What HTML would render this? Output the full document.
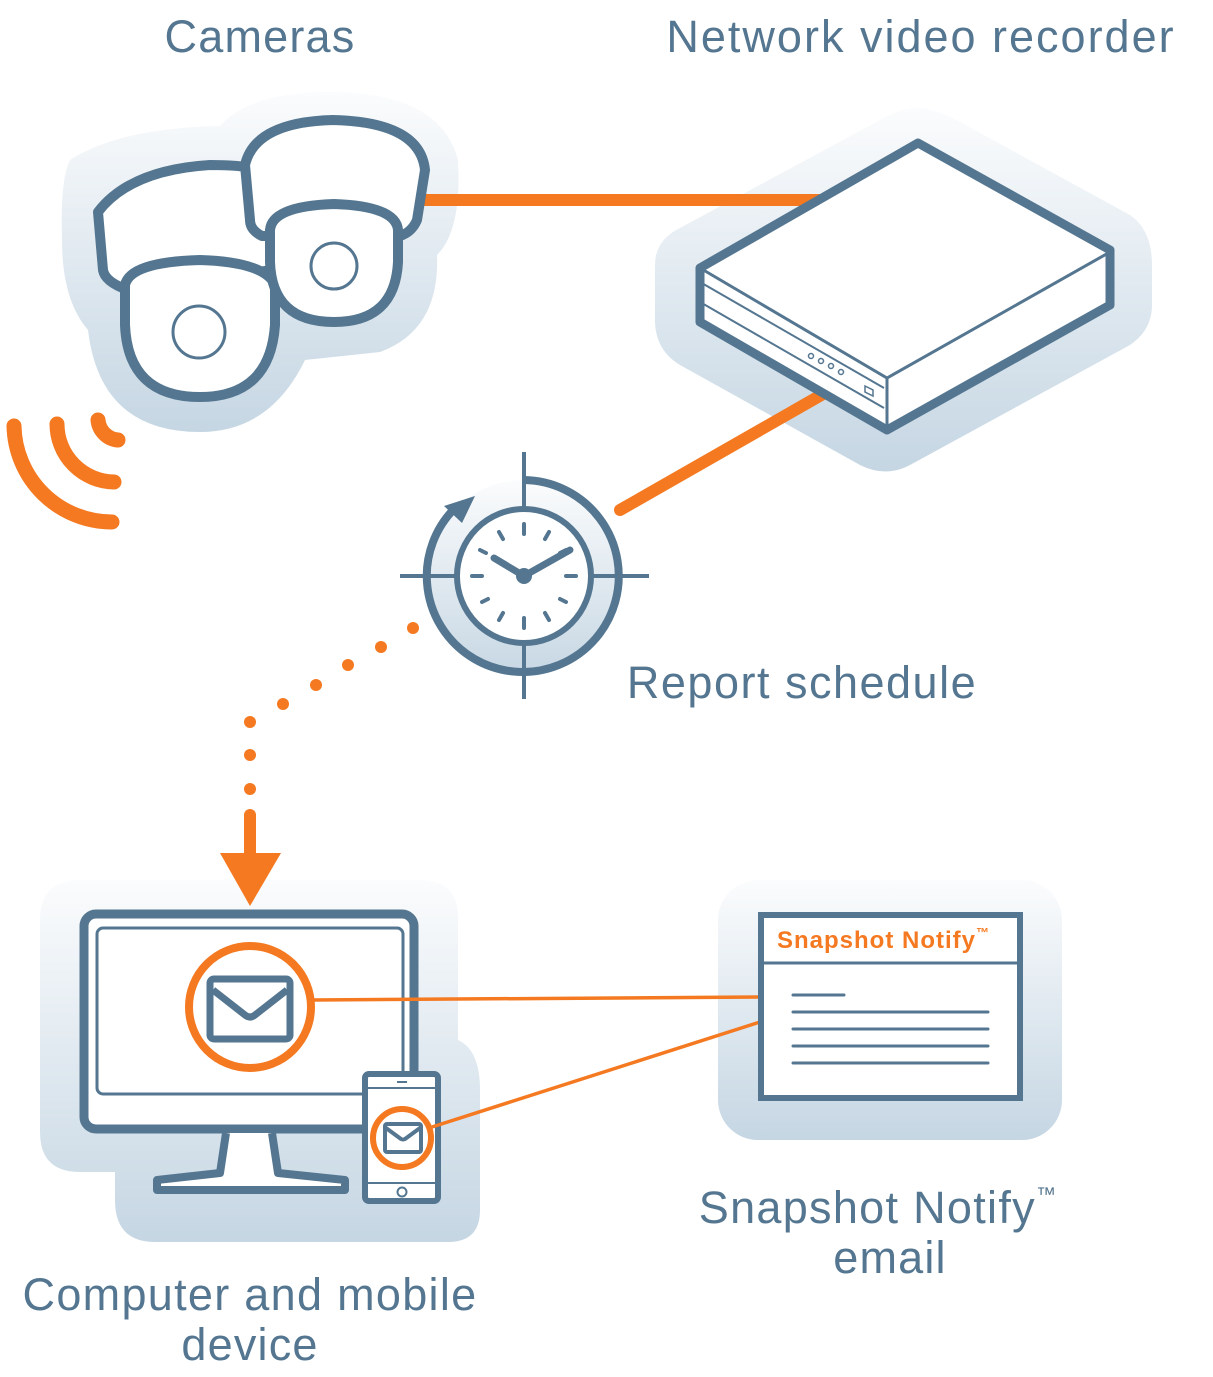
<!DOCTYPE html>
<html><head><meta charset="utf-8"><style>
html,body{margin:0;padding:0;background:#fff;}
svg{display:block;}
text{font-family:"Liberation Sans",sans-serif;fill:#547690;}
</style></head><body>
<svg width="1213" height="1377" viewBox="0 0 1213 1377" xmlns="http://www.w3.org/2000/svg">
<defs>
<linearGradient id="g" x1="0" y1="0" x2="0" y2="1">
<stop offset="0" stop-color="#fbfcfd"/><stop offset="1" stop-color="#c5d6e3"/></linearGradient>
<linearGradient id="g2" x1="0" y1="0" x2="0" y2="1">
<stop offset="0" stop-color="#fbfcfd"/><stop offset="1" stop-color="#c8d8e4"/></linearGradient>
</defs>

<!-- Titles -->
<g font-size="45" letter-spacing="1.2" text-anchor="middle">
<text x="260" y="52">Cameras</text>
<text x="921" y="52" letter-spacing="2">Network video recorder</text>
<text x="802" y="698" letter-spacing="1.5">Report schedule</text>
<text x="250" y="1310" letter-spacing="1.3">Computer and mobile</text>
<text x="250" y="1360">device</text>
<text x="878" y="1223" letter-spacing="1.3">Snapshot Notify<tspan font-size="20" dy="-22">™</tspan></text>
<text x="890" y="1273">email</text>
</g>

<!-- camera background -->
<path d="M70,160 Q120,128 220,126 Q250,92 330,92 Q440,92 458,160 Q462,230 437,255 Q440,330 380,352 L305,360 Q270,432 200,432 Q100,432 88,330 Q62,300 62,240 Q60,180 70,160 Z" fill="url(#g)"/>
<!-- NVR background -->
<path d="M918,108 Q935,108 960,122 L1130,215 Q1152,230 1152,265 L1152,305 Q1152,330 1130,345 L910,465 Q886,478 860,465 L680,365 Q655,350 655,320 L655,265 Q655,240 680,228 L880,120 Q900,108 918,108 Z" fill="url(#g)"/>

<!-- orange connectors -->
<line x1="420" y1="200" x2="830" y2="200" stroke="#f47920" stroke-width="12"/>
<line x1="830" y1="390" x2="620" y2="510" stroke="#f47920" stroke-width="12" stroke-linecap="round"/>

<!-- cameras: left -->
<path d="M98,212 Q130,170 210,165 Q245,165 260,170 L272,238 L272,270 L128,290 Q105,282 103,270 Z" fill="#fff" stroke="#547690" stroke-width="10" stroke-linejoin="round"/>
<path d="M125,292 L125,285 Q130,262 200,260 Q265,262 275,285 L275,325 Q270,397 200,397 Q128,397 125,325 Z" fill="#fff" stroke="#547690" stroke-width="10"/>
<path d="M128,282 Q140,262 200,260 Q262,262 272,280" fill="none" stroke="#547690" stroke-width="3"/>
<circle cx="199" cy="332" r="26" fill="none" stroke="#547690" stroke-width="3"/>
<!-- camera right -->
<path d="M245,165 Q255,122 333,120 Q420,122 425,170 L417,220 Q412,232 400,236 L262,236 Q250,230 250,220 Z" fill="#fff" stroke="#547690" stroke-width="10" stroke-linejoin="round"/>
<path d="M270,230 Q272,206 334,204 Q396,206 398,230 L398,262 Q395,322 334,322 Q272,322 270,262 Z" fill="#fff" stroke="#547690" stroke-width="10"/>
<path d="M272,226 Q280,206 334,204 Q390,206 396,226" fill="none" stroke="#547690" stroke-width="3"/>
<circle cx="334" cy="266" r="23" fill="none" stroke="#547690" stroke-width="3"/>

<!-- wifi -->
<g fill="none" stroke="#f47920" stroke-width="15" stroke-linecap="round">
<path d="M98,420 A22,22 0 0 0 118,440"/>
<path d="M57,424 A58,58 0 0 0 114,482"/>
<path d="M14,426 A98,98 0 0 0 112,522"/>
</g>

<!-- NVR -->
<path d="M918,143 L1110,250 L1110,305 L887,430 L700,322 L700,268 Z" fill="#fff" stroke="#547690" stroke-width="9" stroke-linejoin="round"/>
<path d="M700,268 L887,378 L1110,252" fill="none" stroke="#547690" stroke-width="3"/>
<line x1="887" y1="378" x2="887" y2="430" stroke="#547690" stroke-width="3"/>
<line x1="700" y1="282" x2="884" y2="388" stroke="#547690" stroke-width="2"/>
<line x1="700" y1="302" x2="884" y2="408" stroke="#547690" stroke-width="2"/>
<g fill="none" stroke="#547690" stroke-width="1.5">
<circle cx="811" cy="356" r="2.5"/><circle cx="821" cy="361" r="2.5"/><circle cx="831" cy="366" r="2.5"/><circle cx="841" cy="372" r="2.5"/>
<path d="M865,386 L873,390 L873,396 L865,392 Z"/>
</g>

<!-- clock -->
<circle cx="524" cy="576" r="96" fill="url(#g2)"/>
<line x1="524" y1="452" x2="524" y2="699" stroke="#547690" stroke-width="4"/>
<line x1="400" y1="576" x2="649" y2="576" stroke="#547690" stroke-width="4"/>
<path d="M524,480 A96,96 0 1 1 455,508" fill="none" stroke="#547690" stroke-width="8"/>
<path d="M444,506 L475,496 L462,523 Z" fill="#547690"/>
<circle cx="524" cy="576" r="67" fill="#fff" stroke="#547690" stroke-width="6"/>
<g stroke="#547690" stroke-width="4" stroke-linecap="round">
<line x1="524" y1="524" x2="524" y2="534"/><line x1="524" y1="618" x2="524" y2="628"/>
<line x1="472" y1="576" x2="482" y2="576"/><line x1="566" y1="576" x2="576" y2="576"/>
<line x1="549" y1="532" x2="545" y2="539"/><line x1="566" y1="550" x2="560" y2="553"/>
<line x1="566" y1="602" x2="560" y2="599"/><line x1="549" y1="620" x2="545" y2="613"/>
<line x1="499" y1="620" x2="503" y2="613"/><line x1="482" y1="602" x2="488" y2="599"/>
<line x1="499" y1="532" x2="503" y2="539"/><line x1="480" y1="550" x2="486" y2="553"/>
</g>
<g stroke="#547690" stroke-width="7" stroke-linecap="round">
<line x1="524" y1="576" x2="494" y2="558"/><line x1="524" y1="576" x2="570" y2="550"/>
</g>
<circle cx="524" cy="576" r="8" fill="#547690"/>

<!-- dotted path -->
<g fill="#f47920">
<circle cx="413" cy="628" r="6"/><circle cx="381" cy="647" r="6"/><circle cx="348" cy="665" r="6"/>
<circle cx="316" cy="685" r="6"/><circle cx="283" cy="704" r="6"/><circle cx="250" cy="722" r="6"/>
<circle cx="250" cy="755" r="6"/><circle cx="250" cy="789" r="6"/>
</g>

<!-- computer background -->
<path d="M80,880 L420,880 Q458,880 458,918 L458,1040 Q480,1050 480,1090 L480,1210 Q480,1242 448,1242 L155,1242 Q115,1242 115,1200 L115,1172 L80,1172 Q40,1172 40,1132 L40,920 Q40,880 80,880 Z" fill="url(#g)"/>
<!-- email doc background -->
<rect x="718" y="880" width="344" height="260" rx="40" fill="url(#g)"/>

<!-- arrow -->
<line x1="250" y1="815" x2="250" y2="860" stroke="#f47920" stroke-width="12" stroke-linecap="round"/>
<path d="M220,853 L281,853 L250,906 Z" fill="#f47920"/>

<!-- monitor -->
<rect x="84" y="914" width="330" height="215" rx="12" fill="#fff" stroke="#547690" stroke-width="9"/>
<rect x="97" y="928" width="306" height="166" rx="6" fill="none" stroke="#547690" stroke-width="3"/>
<path d="M226,1133 L220,1173 L157,1180 L157,1190 L345,1190 L345,1180 L278,1173 L272,1133" fill="#fff" stroke="#547690" stroke-width="8" stroke-linejoin="round"/>
<circle cx="250" cy="1007" r="61" fill="#fff" stroke="#f47920" stroke-width="8"/>
<rect x="210" y="979" width="80" height="60" rx="4" fill="none" stroke="#547690" stroke-width="7"/>
<path d="M213,990 L245,1015 Q250,1019 255,1015 L287,990" fill="none" stroke="#547690" stroke-width="7" stroke-linejoin="round"/>

<!-- phone -->
<rect x="365" y="1074" width="73" height="127" rx="4" fill="#fff" stroke="#547690" stroke-width="6"/>
<line x1="368" y1="1088" x2="435" y2="1088" stroke="#547690" stroke-width="2"/>
<line x1="368" y1="1183" x2="435" y2="1183" stroke="#547690" stroke-width="2"/>
<line x1="397" y1="1082" x2="407" y2="1082" stroke="#547690" stroke-width="2"/>
<circle cx="402" cy="1192" r="4.5" fill="none" stroke="#547690" stroke-width="2"/>
<circle cx="402" cy="1138" r="29" fill="#fff" stroke="#f47920" stroke-width="6"/>
<rect x="385" y="1124" width="36" height="28" rx="2" fill="none" stroke="#547690" stroke-width="4"/>
<path d="M386,1128 L401,1139 Q403,1140 405,1139 L420,1128" fill="none" stroke="#547690" stroke-width="4"/>

<!-- orange thin lines -->
<line x1="313" y1="1000" x2="760" y2="997" stroke="#f47920" stroke-width="3.5"/>
<line x1="432" y1="1127" x2="760" y2="1022" stroke="#f47920" stroke-width="3.5"/>

<!-- doc -->
<rect x="761" y="915" width="259" height="183" fill="#fff" stroke="#547690" stroke-width="6"/>
<line x1="761" y1="963" x2="1020" y2="963" stroke="#547690" stroke-width="3"/>
<text x="777" y="948" font-size="24" font-weight="bold" letter-spacing="1" style="fill:#f47920">Snapshot Notify<tspan font-size="13" dy="-11" letter-spacing="0">™</tspan></text>
<g stroke="#547690" stroke-width="3" stroke-linecap="round">
<line x1="793" y1="995" x2="844" y2="995"/>
<line x1="793" y1="1012" x2="988" y2="1012"/>
<line x1="793" y1="1029" x2="988" y2="1029"/>
<line x1="793" y1="1046" x2="988" y2="1046"/>
<line x1="793" y1="1063" x2="988" y2="1063"/>
</g>
</svg>
</body></html>
